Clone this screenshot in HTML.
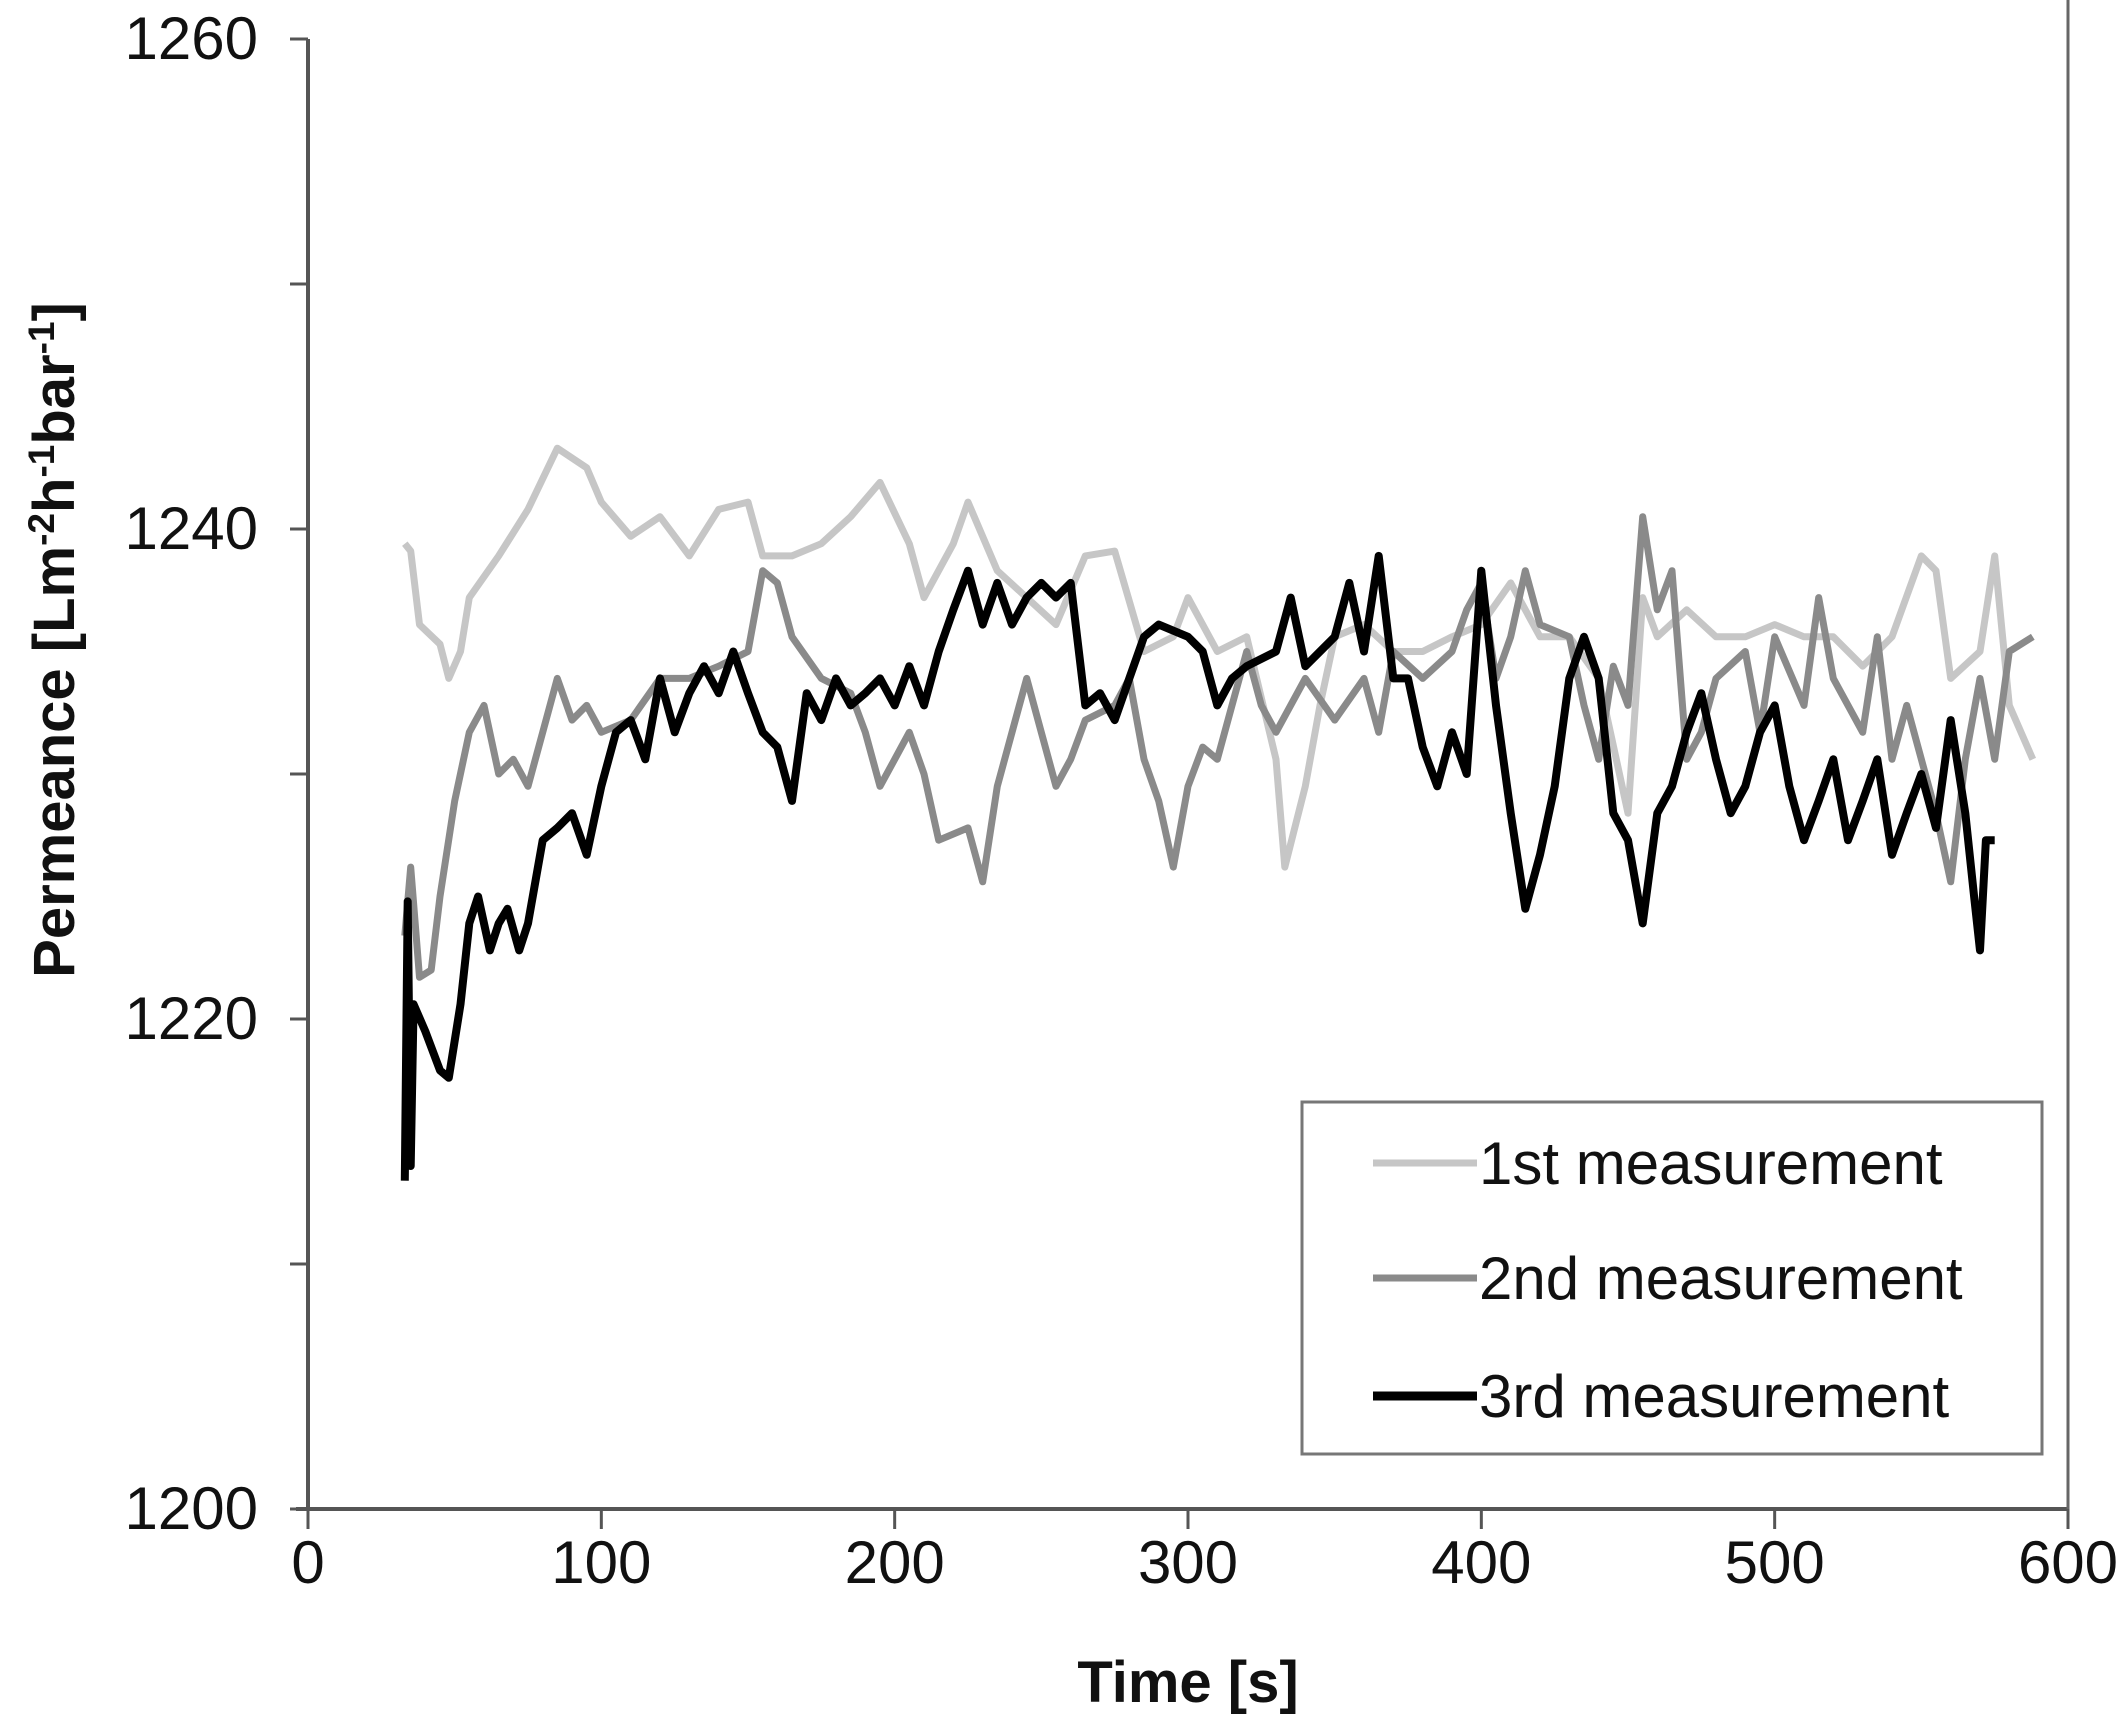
<!DOCTYPE html>
<html><head><meta charset="utf-8"><style>
html,body{margin:0;padding:0;background:#fff;}
svg text{font-family:"Liberation Sans",Arial,sans-serif;fill:#111;}
</style></head><body>
<svg id="chart" width="2125" height="1730" viewBox="0 0 2125 1730" xmlns="http://www.w3.org/2000/svg">
<g id="axes"></g>
<g id="series"></g>
<g id="legend"></g>
</svg>
<script>
const xTicks = [0,100,200,300,400,500,600];
const yTicks = [1200,1220,1240,1260];
const yMinorTicks = [1210,1230,1250];
const t1 = [33,35,38,45,48,52,55,65,75,85,95,100,110,120,130,140,150,155,165,175,185,195,205,210,220,225,235,245,255,265,275,285,295,300,310,320,330,333,340,345,350,360,370,380,390,400,410,420,430,440,450,455,460,470,480,490,500,510,520,530,540,550,555,560,570,575,580,588];
const v1 = [1239.4,1239.1,1236.1,1235.3,1233.9,1235.0,1237.2,1238.9,1240.8,1243.3,1242.5,1241.1,1239.7,1240.5,1238.9,1240.8,1241.1,1238.9,1238.9,1239.4,1240.5,1241.9,1239.4,1237.2,1239.4,1241.1,1238.3,1237.2,1236.1,1238.9,1239.1,1235.0,1235.6,1237.2,1235.0,1235.6,1230.6,1226.2,1229.5,1232.8,1235.6,1236.1,1235.0,1235.0,1235.6,1236.1,1237.8,1235.6,1235.6,1233.9,1228.4,1237.2,1235.6,1236.7,1235.6,1235.6,1236.1,1235.6,1235.6,1234.4,1235.6,1238.9,1238.3,1233.9,1235.0,1238.9,1232.8,1230.6];
const t2 = [33,35,38,42,45,50,55,60,65,70,75,80,85,90,95,100,110,120,130,140,150,155,160,165,175,185,190,195,200,205,210,215,225,230,235,245,250,255,260,265,275,280,285,290,295,300,305,310,320,325,330,340,350,360,365,370,380,390,395,400,405,410,415,420,430,435,440,445,450,455,460,465,470,475,480,490,495,500,510,515,520,530,535,540,545,555,560,565,570,575,580,588];
const v2 = [1223.4,1226.2,1221.7,1222.0,1225.0,1228.9,1231.7,1232.8,1230.0,1230.6,1229.5,1231.7,1233.9,1232.2,1232.8,1231.7,1232.2,1233.9,1233.9,1234.4,1235.0,1238.3,1237.8,1235.6,1233.9,1233.3,1231.7,1229.5,1230.6,1231.7,1230.0,1227.3,1227.8,1225.6,1229.5,1233.9,1231.7,1229.5,1230.6,1232.2,1232.8,1233.9,1230.6,1228.9,1226.2,1229.5,1231.1,1230.6,1235.0,1232.8,1231.7,1233.9,1232.2,1233.9,1231.7,1235.0,1233.9,1235.0,1236.7,1237.8,1233.9,1235.6,1238.3,1236.1,1235.6,1232.8,1230.6,1234.4,1232.8,1240.5,1236.7,1238.3,1230.6,1231.7,1233.9,1235.0,1231.7,1235.6,1232.8,1237.2,1233.9,1231.7,1235.6,1230.6,1232.8,1228.4,1225.6,1230.6,1233.9,1230.6,1235.0,1235.6];
const t3 = [33,34,35,36,40,45,48,52,55,58,62,65,68,72,75,80,85,90,95,100,105,110,115,120,125,130,135,140,145,150,155,160,165,170,175,180,185,190,195,200,205,210,215,220,225,230,235,240,245,250,255,260,265,270,275,280,285,290,300,305,310,315,320,330,335,340,345,350,355,360,365,370,375,380,385,390,395,400,405,410,415,420,425,430,435,440,445,450,455,460,465,470,475,480,485,490,495,500,505,510,515,520,525,530,535,540,545,550,555,560,565,568,570,572,575];
const v3 = [1213.4,1224.8,1214.0,1220.6,1219.5,1217.9,1217.6,1220.6,1223.9,1225.0,1222.8,1223.9,1224.5,1222.8,1223.9,1227.3,1227.8,1228.4,1226.7,1229.5,1231.7,1232.2,1230.6,1233.9,1231.7,1233.3,1234.4,1233.3,1235.0,1233.3,1231.7,1231.1,1228.9,1233.3,1232.2,1233.9,1232.8,1233.3,1233.9,1232.8,1234.4,1232.8,1235.0,1236.7,1238.3,1236.1,1237.8,1236.1,1237.2,1237.8,1237.2,1237.8,1232.8,1233.3,1232.2,1233.9,1235.6,1236.1,1235.6,1235.0,1232.8,1233.9,1234.4,1235.0,1237.2,1234.4,1235.0,1235.6,1237.8,1235.0,1238.9,1233.9,1233.9,1231.1,1229.5,1231.7,1230.0,1238.3,1232.8,1228.4,1224.5,1226.7,1229.5,1233.9,1235.6,1233.9,1228.4,1227.3,1223.9,1228.4,1229.5,1231.7,1233.3,1230.6,1228.4,1229.5,1231.7,1232.8,1229.5,1227.3,1228.9,1230.6,1227.3,1228.9,1230.6,1226.7,1228.4,1230.0,1227.8,1232.2,1228.4,1225.0,1222.8,1227.3,1227.3];
const seriesNames = ["1st measurement","2nd measurement","3rd measurement"];
const seriesColors = ["#c6c6c6","#8a8a8a","#000000"];

const X0=308,X1=2068,Y0=1509,Y1=39;
function sx(t){return X0+(t-0)/(600-0)*(X1-X0);}
function sy(v){return Y0-(v-1200)/(1260-1200)*(Y0-Y1);}
const NS="http://www.w3.org/2000/svg";
function mk(tag,attrs,parent){const e=document.createElementNS(NS,tag);for(const k in attrs)e.setAttribute(k,attrs[k]);parent.appendChild(e);return e;}
const axes=document.getElementById('axes');
const ax=mk('line',{x1:X0,y1:Y1,x2:X0,y2:Y0,stroke:'#555','stroke-width':4},axes);


const bx=mk('line',{x1:X0-12,y1:Y0,x2:X1,y2:Y0,stroke:'#555','stroke-width':4},axes);


const rx=mk('line',{x1:X1,y1:0,x2:X1,y2:Y0+20,stroke:'#666','stroke-width':3},axes);


xTicks.forEach(t=>{
  const l=mk('line',{x1:sx(t),y1:Y0,x2:sx(t),y2:Y0+20,stroke:'#555','stroke-width':3},axes);
  
  
  const tx=mk('text',{x:sx(t),y:Y0+74,'text-anchor':'middle','font-size':60},axes);
  tx.textContent=t;
  
  
});
yTicks.concat(yMinorTicks).forEach(v=>{
  const l=mk('line',{x1:X0-18,y1:sy(v),x2:X0,y2:sy(v),stroke:'#555','stroke-width':3},axes);
  
  
});
yTicks.forEach(v=>{
  const tx=mk('text',{x:258,y:sy(v)+20,'text-anchor':'end','font-size':60},axes);
  tx.textContent=v;
  
  
});
const xt=mk('text',{x:1188,y:1702,'text-anchor':'middle','font-size':58,'font-weight':'bold'},axes);
xt.textContent='Time [s]';


const yt=mk('text',{x:0,y:0,'text-anchor':'middle','font-size':58,'font-weight':'bold',transform:'translate(74,640) rotate(-90)'},axes);
yt.innerHTML='Permeance [Lm<tspan dy="-20" font-size="37">-2</tspan><tspan dy="20">h</tspan><tspan dy="-20" font-size="37">-1</tspan><tspan dy="20">bar</tspan><tspan dy="-20" font-size="37">-1</tspan><tspan dy="20">]</tspan>';



const sg=document.getElementById('series');
const allT=[t1,t2,t3],allV=[v1,v2,v3],widths=[7,7,8];
for(let i=0;i<3;i++){
  const d=allT[i].map((t,j)=>(j?'L':'M')+sx(t).toFixed(1)+','+sy(allV[i][j]).toFixed(1)).join(' ');
  const p=mk('path',{d:d,fill:'none',stroke:seriesColors[i],'stroke-width':widths[i],'stroke-linejoin':'round'},sg);
  
  
}
const lg=document.getElementById('legend');
const box=mk('rect',{x:1302,y:1102,width:740,height:352,fill:'#fff',stroke:'#777','stroke-width':3},lg);


const rows=[1163,1278,1396];
for(let i=0;i<3;i++){
  const l=mk('line',{x1:1373,y1:rows[i],x2:1477,y2:rows[i],stroke:seriesColors[i],'stroke-width':i==2?9:7},lg);
  
  
  const tx=mk('text',{x:1479,y:rows[i]+21,'font-size':60},lg);
  tx.textContent=seriesNames[i];
  
  
}
</script>
</body></html>
